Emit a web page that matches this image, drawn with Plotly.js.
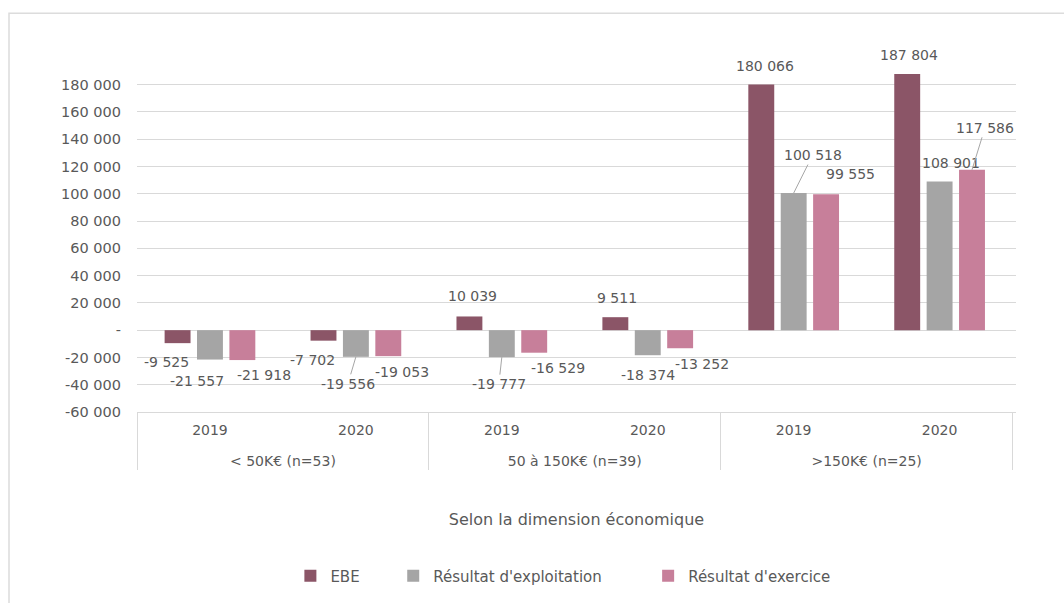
<!DOCTYPE html>
<html>
<head>
<meta charset="utf-8">
<script src="https://cdn.plot.ly/plotly-3.0.1.min.js"></script>
<style>
  html, body { margin: 0; padding: 0; background: #ffffff; }
  #chart { width: 1064px; height: 603px; }
</style>
</head>
<body>
<div id="chart"></div>
<script>
// ---- data ----
const groups = ['< 50K€ (n=53)', '50 à 150K€ (n=39)', '>150K€ (n=25)'];
const years = ['2019', '2020'];
const seriesNames = ['EBE', "Résultat d'exploitation", "Résultat d'exercice"];
const ebe = [-9525, -7702, 10039, 9511, 180066, 187804];
const resExploitation = [-21557, -19556, -19777, -18374, 100518, 108901];
const resExercice = [-21918, -19053, -16529, -13252, 99555, 117586];
const yTickVals = [-60000, -40000, -20000, 0, 20000, 40000, 60000, 80000, 100000, 120000, 140000, 160000, 180000];
const axisTitle = 'Selon la dimension économique';

// ---- styles ----
const colors = ['#8B5567', '#A5A5A5', '#C77F9A'];
const textColor = '#595959';
const gridColor = '#D9D9D9';
const numFont = 'DejaVu Sans, sans-serif';
const bargap = 0.334;
// label offsets in px (dx, dy from bar end), and whether a leader line is drawn
const labelDx = [
  [-11, -11, 3, 2, 4, 2],
  [-13, -8, -3, 0, 19, 11],
  [22, 14, 24, 22, 24, 13]
];
const labelDy = [
  [19, 19, -20, -19, -19, -19],
  [21, 27, 27, 20, -38, -19],
  [15, 16, 15, 16, -20, -42]
];
const leader = [
  [false, false, false, false, false, false],
  [false, true, true, false, true, false],
  [false, false, false, false, false, true]
];

function fmt(v) {
  const s = Math.abs(v).toString().replace(/\B(?=(\d{3})+(?!\d))/g, ' ');
  if (v === 0) return '-';
  return (v < 0 ? '-' : '') + s;
}

const xGroups = [];
const xYears = [];
// group labels are pushed down one line to match the spaced table rows of the original
groups.forEach(g => years.forEach(y => { xGroups.push('<br>' + g); xYears.push(y); }));
const allSeries = [ebe, resExploitation, resExercice];

const traces = allSeries.map((vals, s) => ({
  type: 'bar',
  name: seriesNames[s],
  x: [xGroups, xYears],
  y: vals,
  marker: { color: colors[s] },
  legend: s === 0 ? 'legend' : 'legend' + (s + 1),
  hoverinfo: 'skip'
}));

const slot = (1 - bargap) / allSeries.length;
const annotations = [];
allSeries.forEach((vals, s) => {
  vals.forEach((v, c) => {
    const xPos = c + (s - (allSeries.length - 1) / 2) * slot;
    annotations.push({
      xref: 'x', yref: 'y', x: xPos, y: v,
      text: fmt(v),
      font: { family: numFont, size: 14, color: textColor },
      showarrow: true,
      arrowhead: 0,
      arrowwidth: 1,
      standoff: 0,
      ax: labelDx[s][c],
      ay: labelDy[s][c],
      arrowcolor: leader[s][c] ? '#A6A6A6' : 'rgba(0,0,0,0)'
    });
  });
});

const legendBase = {
  orientation: 'h',
  yanchor: 'middle', xanchor: 'left',
  y: -0.4766,
  bgcolor: 'rgba(0,0,0,0)',
  font: { family: numFont, size: 15, color: textColor },
  itemwidth: 30
};

const layout = {
  width: 1064, height: 603,
  margin: { l: 137, r: 48, t: 71, b: 190 },
  paper_bgcolor: '#ffffff', plot_bgcolor: '#ffffff',
  barmode: 'group',
  bargap: bargap,
  bargroupgap: 0.2,
  showlegend: true,
  legend: Object.assign({}, legendBase, { x: 0.1745 }),
  legend2: Object.assign({}, legendBase, { x: 0.2915 }),
  legend3: Object.assign({}, legendBase, { x: 0.5815 }),
  xaxis: {
    type: 'multicategory',
    showgrid: false,
    showline: true, linecolor: gridColor, linewidth: 1,
    ticks: '',
    ticklabelstandoff: 5,
    showdividers: true, dividercolor: gridColor, dividerwidth: 1,
    tickfont: { family: numFont, size: 14, color: textColor },
    title: { text: axisTitle, font: { family: numFont, size: 16, color: textColor }, standoff: 45 },
    fixedrange: true
  },
  yaxis: {
    range: [-60000, 190000],
    tickvals: yTickVals,
    ticktext: yTickVals.map(fmt),
    showgrid: true, gridcolor: gridColor, gridwidth: 1,
    zeroline: true, zerolinecolor: gridColor, zerolinewidth: 1,
    showline: false,
    ticks: '',
    ticklabelstandoff: 15,
    tickfont: { family: numFont, size: 14.5, color: textColor },
    fixedrange: true
  },
  annotations: annotations,
  shapes: [{
    type: 'rect', xref: 'paper', yref: 'paper',
    x0: (9 - 137) / 879, x1: (1080 - 137) / 879,
    y0: (413 - 620) / 342, y1: (413 - 13) / 342,
    line: { color: '#DCDCDC', width: 1.5 },
    fillcolor: 'rgba(0,0,0,0)',
    layer: 'below'
  }]
};

Plotly.newPlot('chart', traces, layout, { staticPlot: true, displayModeBar: false });
</script>
</body>
</html>
